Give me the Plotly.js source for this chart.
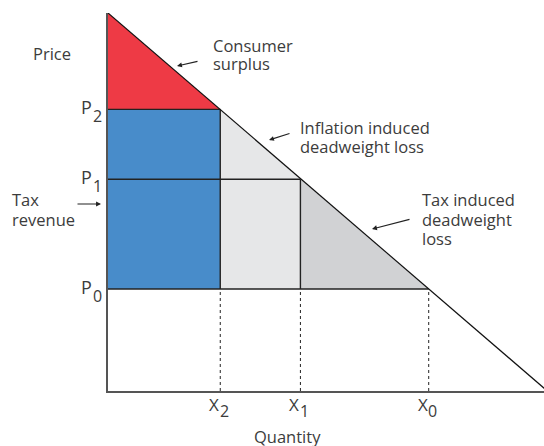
<!DOCTYPE html>
<html>
<head>
<meta charset="utf-8">
<script src="https://cdn.plot.ly/plotly-3.0.1.min.js"></script>
<style>html,body{margin:0;padding:0;background:#fff;}#chart{width:544px;height:446px;}</style>
</head>
<body>
<div id="chart"></div>
<script>
// ---- data ----
const quantities = [10, 6, 3.5];                 // X0, X1, X2
const quantitySubs = ['0', '1', '2'];
const prices = [2.7, 5.6, 7.45];                 // P0, P1, P2
const priceSubs = ['0', '1', '2'];
const demandQ = [0, 13.7];
const demandP = [10, 0];

const [X0, X1, X2] = quantities;
const [P0, P1, P2] = prices;

// ---- layout helpers ----
const W = 544, H = 446;
const M = {l: 108, r: 0, t: 13, b: 55};
const plotW = W - M.l - M.r, plotH = H - M.t - M.b;
const px = v => (v - M.l) / plotW;          // pixel -> paper x
const py = v => (H - M.b - v) / plotH;      // pixel -> paper y

const RED = '#EE3A45', BLUE = '#488CCA', LIGHT = '#E6E7E8', MID = '#D1D2D4';
const TXT = '#3c3c3c';
const FONT = 'Open Sans, sans-serif';
const FS = 16.5;

const fillTrace = (x, y, color) => ({
  x, y, type: 'scatter', mode: 'lines', fill: 'toself', fillcolor: color,
  line: {width: 0}, hoverinfo: 'skip', showlegend: false
});

const traces = [
  fillTrace([0, 0, X2, 0], [demandP[0], P2, P2, demandP[0]], RED),
  fillTrace([0, X2, X2, 0, 0], [P0, P0, P2, P2, P0], BLUE),
  fillTrace([X2, X2, X1, X1, X2], [P0, P2, P1, P0, P0], LIGHT),
  fillTrace([X1, X0, X1, X1], [P0, P0, P1, P0], MID),
  { // solid price / quantity lines
    x: [0, X0, null, 0, X1, null, 0, X2, null, X2, X2, null, X1, X1],
    y: [P0, P0, null, P1, P1, null, P2, P2, null, P0, P2, null, P0, P1],
    type: 'scatter', mode: 'lines', line: {color: '#222', width: 1.4},
    hoverinfo: 'skip', showlegend: false
  },
  { // dashed drop lines
    x: [X2, X2, null, X1, X1, null, X0, X0],
    y: [0, P0, null, 0, P0, null, 0, P0],
    type: 'scatter', mode: 'lines', line: {color: '#222', width: 1, dash: '3px,3px'},
    hoverinfo: 'skip', showlegend: false
  },
  { // demand curve
    x: demandQ, y: demandP, type: 'scatter', mode: 'lines',
    line: {color: '#111', width: 1.2}, hoverinfo: 'skip', showlegend: false
  }
];

const font = (s) => ({family: FONT, size: s || FS, color: TXT});
const txt = (text, x, y, anchor) => ({
  text, x: px(x), y: py(y), xref: 'paper', yref: 'paper',
  xanchor: anchor || 'left', yanchor: 'middle', showarrow: false, font: font()
});
const arrow = (tx, ty, hx, hy) => ({
  text: '', x: px(hx), y: py(hy), xref: 'paper', yref: 'paper',
  ax: px(tx), ay: py(ty), axref: 'paper', ayref: 'paper',
  showarrow: true, arrowhead: 2, arrowsize: 0.9, arrowwidth: 1.1, arrowcolor: '#222'
});

const annotations = [
  txt('Price', 52, 53, 'center'),
  txt('Consumer', 211, 45),
  txt('surplus', 211, 64),
  txt('Inflation induced', 298, 127),
  txt('deadweight loss', 298, 146),
  txt('Tax induced', 420, 200),
  txt('deadweight', 420, 219),
  txt('loss', 420, 238),
  txt('Tax', 10, 200),
  txt('revenue', 10, 219),
  txt('Quantity', 287, 436, 'center'),
  arrow(199, 61, 177, 66),
  arrow(291, 133, 269, 140),
  arrow(411, 219, 372, 229),
  arrow(76, 204, 101, 204)
];
quantities.forEach((q, i) => {
  annotations.push({
    text: 'X', x: q, xref: 'x', y: py(404), yref: 'paper', xshift: -6,
    xanchor: 'center', yanchor: 'middle', showarrow: false, font: font(17)
  });
  annotations.push({
    text: quantitySubs[i], x: q, xref: 'x', y: py(411), yref: 'paper', xshift: 4,
    xanchor: 'center', yanchor: 'middle', showarrow: false, font: font(16)
  });
});
prices.forEach((p, i) => {
  annotations.push({
    text: 'P', x: px(93.5), xref: 'paper', y: p, yref: 'y', yshift: 2,
    xanchor: 'right', yanchor: 'middle', showarrow: false, font: font(18)
  });
  annotations.push({
    text: priceSubs[i], x: px(90.5), xref: 'paper', y: p, yref: 'y', yshift: -7,
    xanchor: 'left', yanchor: 'middle', showarrow: false, font: font(16)
  });
});

const layout = {
  width: W, height: H, margin: M,
  paper_bgcolor: '#fff', plot_bgcolor: '#fff', showlegend: false,
  xaxis: {range: [0, 13.595], showline: true, linecolor: '#555', linewidth: 2,
          showgrid: false, zeroline: false, showticklabels: false, ticks: '', fixedrange: true},
  yaxis: {range: [0, 10], showline: true, linecolor: '#555', linewidth: 2,
          showgrid: false, zeroline: false, showticklabels: false, ticks: '', fixedrange: true},
  annotations
};

Plotly.newPlot('chart', traces, layout, {displayModeBar: false, staticPlot: true});
</script>
</body>
</html>
